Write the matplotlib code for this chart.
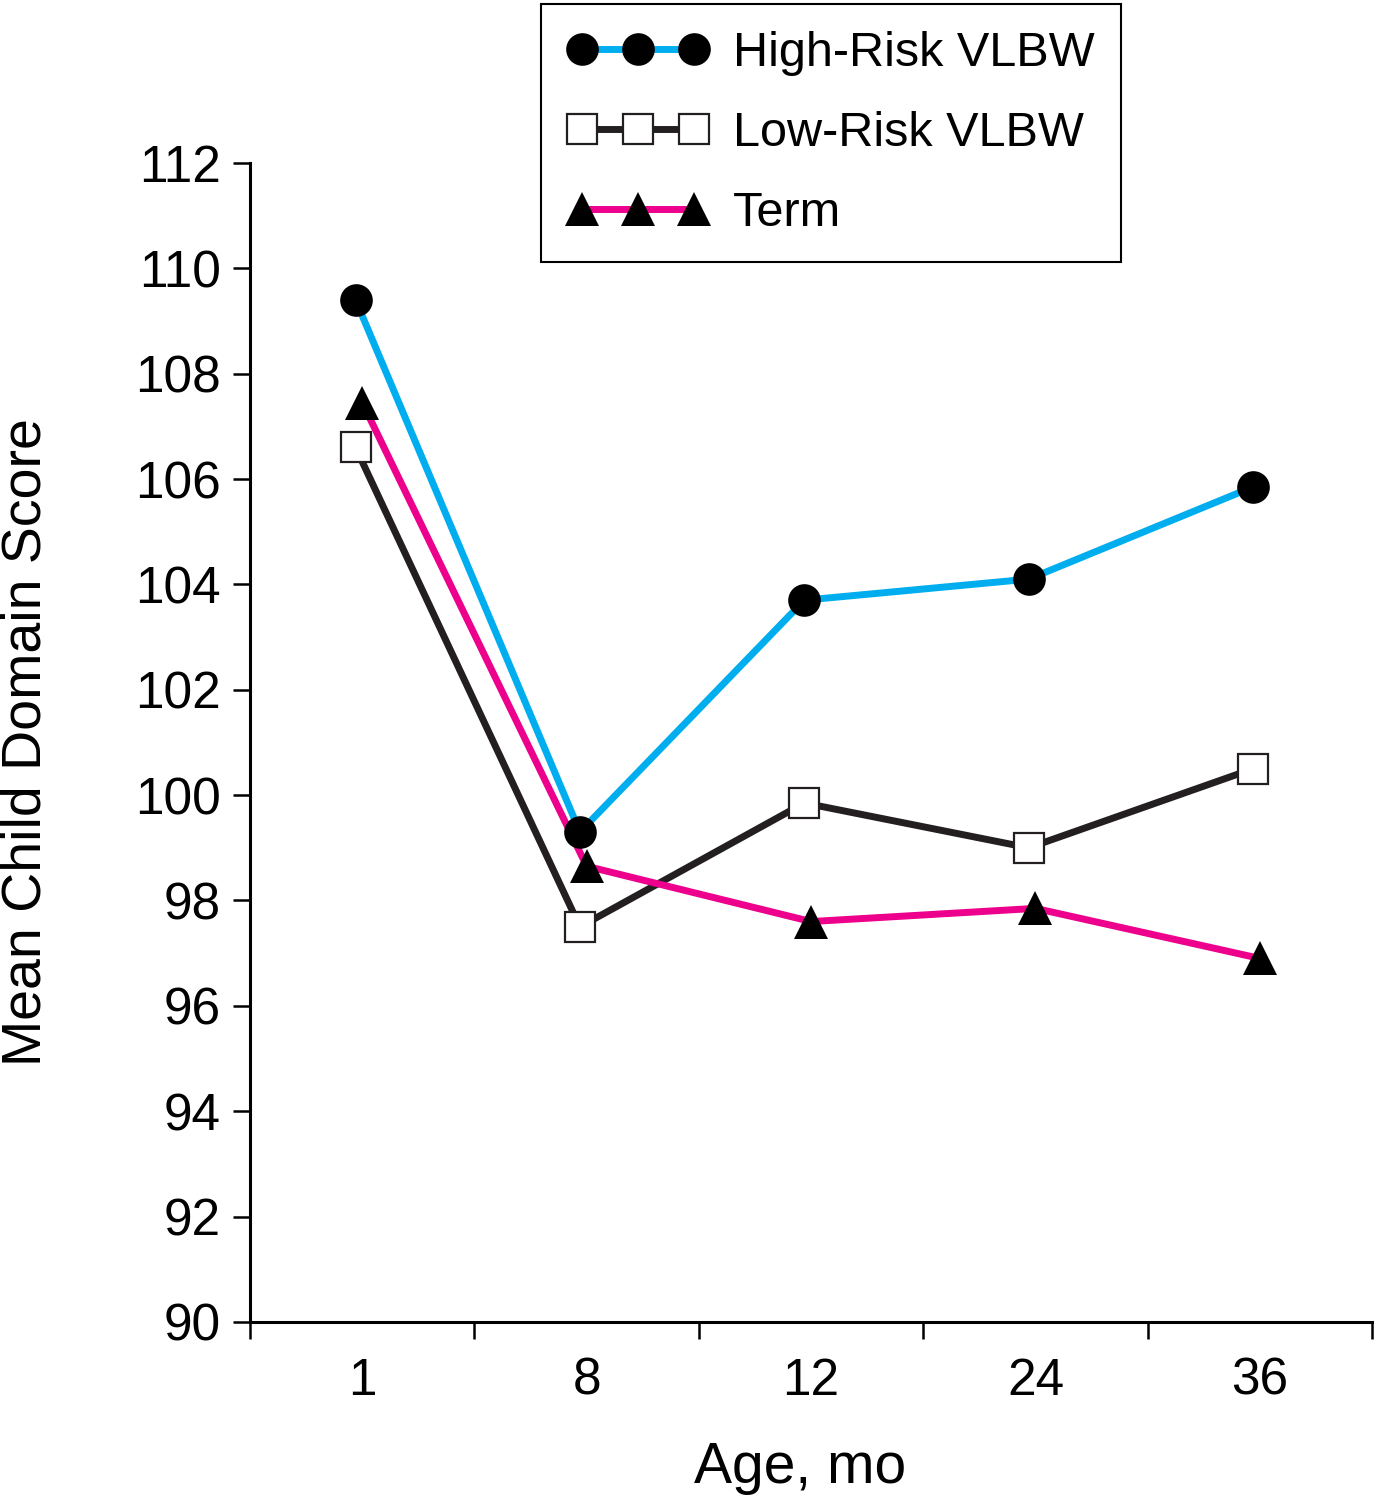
import matplotlib
matplotlib.use("Agg")
import matplotlib.pyplot as plt
from matplotlib.lines import Line2D
import numpy as np

# data
ages = ["1", "8", "12", "24", "36"]
high_risk = [109.4, 99.3, 103.7, 104.1, 105.85]
low_risk = [106.6, 97.5, 99.85, 99.0, 100.5]
term = [107.45, 98.65, 97.6, 97.85, 96.9]
y_ticks = [90, 92, 94, 96, 98, 100, 102, 104, 106, 108, 110, 112]

blue = "#00AEEF"
pink = "#EC008C"
dark = "#231F20"

plt.rcParams["font.family"] = ["Liberation Sans", "DejaVu Sans"]

fig = plt.figure(figsize=(13.77, 15), dpi=100)
ax = fig.add_axes([0.1816, 0.1187, 0.8148, 0.7727])

x = np.arange(len(ages)) + 0.5
shift = -0.03  # circles / squares sit a little left of the triangles
lw = 5.0

# lines first, markers on top
ax.plot(x + shift, low_risk, color=dark, lw=lw, zorder=2, solid_capstyle="butt")
ax.plot(x, term, color=pink, lw=lw, zorder=2, solid_capstyle="butt")
ax.plot(x + shift, high_risk, color=blue, lw=lw, zorder=2, solid_capstyle="butt")

ax.plot(x + shift, low_risk, ls="none", marker="s", ms=22, mfc="white",
        mec=dark, mew=1.6, zorder=3)
ax.plot(x, term, ls="none", marker="^", ms=25, mfc="black", mec="black",
        mew=0, zorder=3)
ax.plot(x + shift, high_risk, ls="none", marker="o", ms=23.5, mfc="black",
        mec="black", mew=0, zorder=4)

ax.set_xlim(0, 5)
ax.set_ylim(90, 112)
ax.set_yticks(y_ticks)
ax.set_yticklabels([str(v) for v in y_ticks])

ax.set_xticks(np.arange(0, 6))
ax.set_xticklabels([])
ax.set_xticks(x, minor=True)
ax.set_xticklabels(ages, minor=True)

for side in ["top", "right"]:
    ax.spines[side].set_visible(False)
for side in ["left", "bottom"]:
    ax.spines[side].set_linewidth(2.2)

ax.tick_params(axis="y", which="major", direction="out", length=12, width=1.8,
               labelsize=37, pad=9)
ax.tick_params(axis="x", which="major", direction="out", length=12, width=1.8)
ax.tick_params(axis="x", which="minor", length=0, labelsize=37, pad=25)

ax.set_ylabel("Mean Child Domain Score", fontsize=40, va="center")
ax.yaxis.set_label_coords(-0.199, 0.5)
ax.set_xlabel("Age, mo", fontsize=41, va="center")
ax.xaxis.set_label_coords(0.49, -0.126)

handles = [
    Line2D([], [], color=blue, lw=lw, marker="o", ms=23.5, mfc="black", mec="black", mew=0),
    Line2D([], [], color=dark, lw=lw, marker="s", ms=22, mfc="white", mec=dark, mew=1.6),
    Line2D([], [], color=pink, lw=lw, marker="^", ms=25, mfc="black", mec="black", mew=0),
]
labels = ["High-Risk VLBW", "Low-Risk VLBW", "Term"]
leg = fig.legend(handles, labels, loc="upper left", bbox_to_anchor=(541 / 1377, 1 - 4 / 1500),
                 numpoints=3, fontsize=35, handlelength=2.9, handletextpad=0.5,
                 borderpad=0.55, labelspacing=0.72, fancybox=False, framealpha=1,
                 edgecolor="black", borderaxespad=0)
leg.get_frame().set_linewidth(1.5)

fig.savefig("out.png", dpi=100)
